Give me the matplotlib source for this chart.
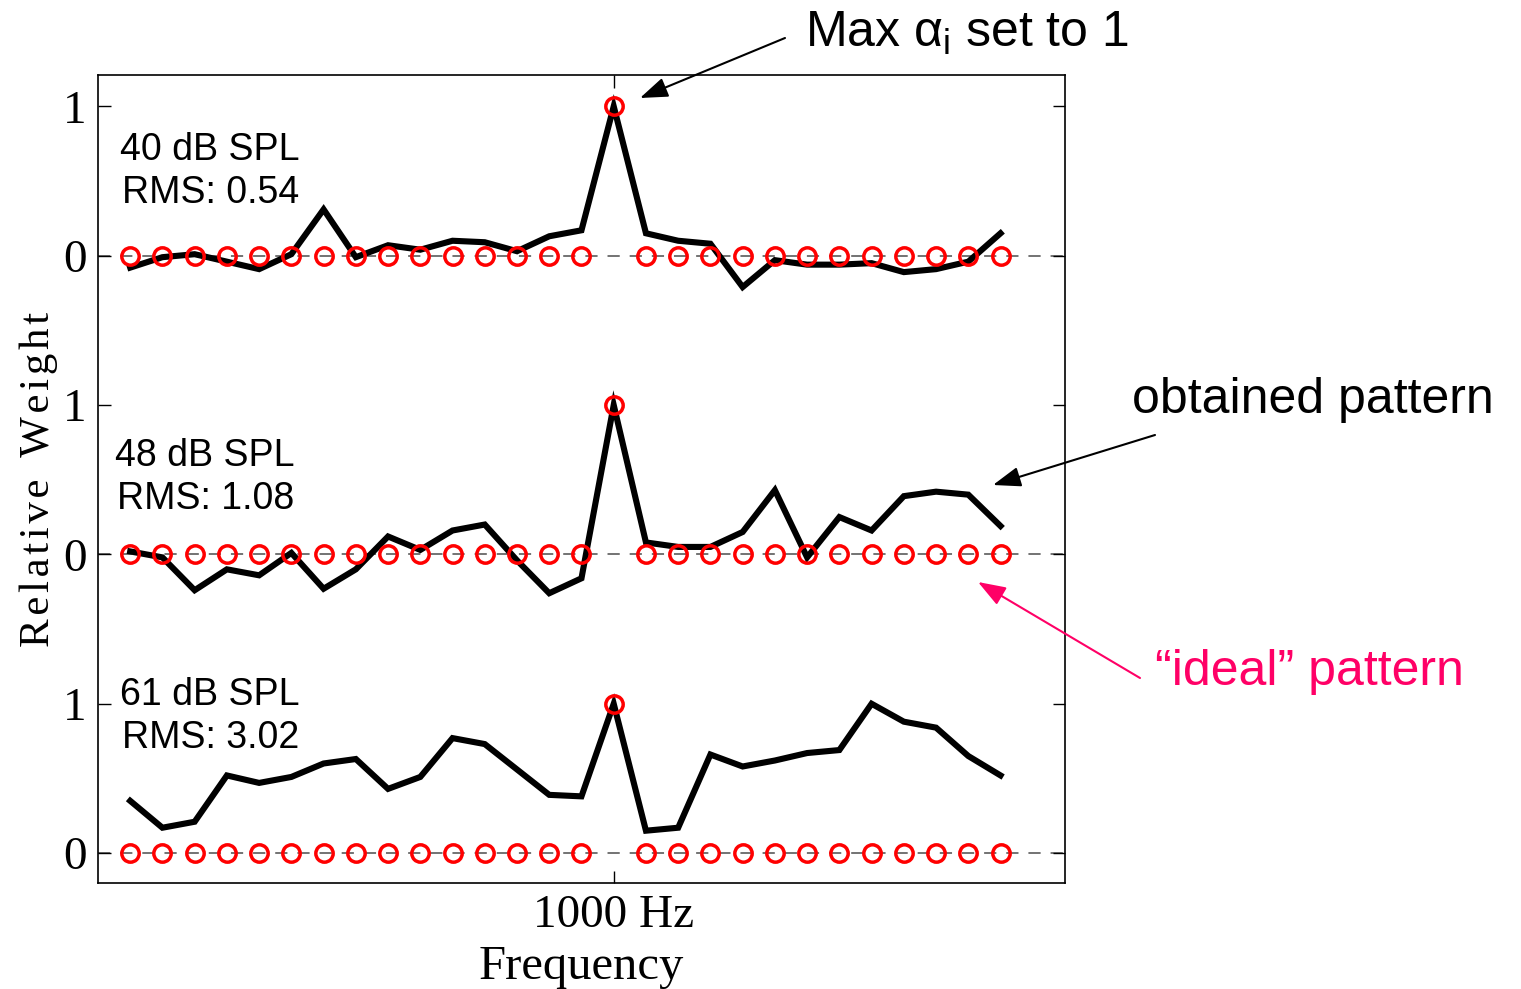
import matplotlib
matplotlib.use("Agg")
import matplotlib.pyplot as plt
import numpy as np

# frequency channels (index 15 is the 1000 Hz target)
n_chan = 28
target_idx = 15

# obtained weight patterns, one per level
levels = ["40 dB SPL", "48 dB SPL", "61 dB SPL"]
rms = [0.54, 1.08, 3.02]
weights_40 = [-0.08, -0.01, 0.01, -0.04, -0.09, 0.01, 0.31, -0.01, 0.07, 0.04,
              0.10, 0.09, 0.03, 0.13, 0.17, 1.00, 0.15, 0.10, 0.08, -0.21,
              -0.03, -0.06, -0.06, -0.05, -0.11, -0.09, -0.04, 0.15]
weights_48 = [0.02, -0.02, -0.24, -0.10, -0.14, 0.01, -0.23, -0.10, 0.12, 0.03,
              0.16, 0.20, -0.04, -0.26, -0.16, 1.00, 0.08, 0.05, 0.05, 0.15,
              0.43, -0.02, 0.25, 0.16, 0.39, 0.42, 0.40, 0.19]
weights_61 = [0.35, 0.17, 0.21, 0.52, 0.47, 0.51, 0.60, 0.63, 0.43, 0.51,
              0.77, 0.73, 0.56, 0.39, 0.38, 1.00, 0.15, 0.17, 0.66, 0.58,
              0.62, 0.67, 0.69, 1.00, 0.88, 0.84, 0.65, 0.52]
panel_offsets = [4, 2, 0]

# "ideal" pattern: all weight on the target channel
ideal = [1.0 if i == target_idx else 0.0 for i in range(n_chan)]

serif = ["Liberation Serif", "DejaVu Serif"]
sans = ["Liberation Sans", "DejaVu Sans"]

# upright greek letters in the annotation
plt.rcParams["mathtext.fontset"] = "custom"
plt.rcParams["mathtext.rm"] = "Liberation Sans"
plt.rcParams["mathtext.it"] = "Liberation Sans"
plt.rcParams["mathtext.bf"] = "Liberation Sans:bold"

fig = plt.figure(figsize=(15.21, 9.89), dpi=100)
ax = fig.add_axes([0.0644, 0.1072, 0.6358, 0.8170])

x = np.arange(n_chan)
for w, off in zip([weights_40, weights_48, weights_61], panel_offsets):
    ax.axhline(off, color="0.3", ls=(0, (8, 6.5)), lw=1.1, zorder=1)
    ax.plot(x, np.array(w) + off, color="black", lw=4.4,
            solid_joinstyle="miter", zorder=2)
    ax.plot(x, np.array(ideal) + off, "o", ms=12.5, mfc="none", mec="red",
            mew=2.5, zorder=3)

ax.set_xlim(-1, 29)
ax.set_ylim(-0.2, 5.21)

ax.set_xticks([target_idx])
ax.set_xticklabels(["1000 Hz"], fontsize=34, family=serif)
ax.set_yticks([0, 1, 2, 3, 4, 5])
ax.set_yticklabels(["0", "1", "0", "1", "0", "1"], fontsize=34, family=serif)
ax.tick_params(direction="in", length=9, width=1, top=True, right=True,
               pad=8)
ax.tick_params(axis="x", pad=8)
for s in ax.spines.values():
    s.set_linewidth(1.2)

hs = "\u200a"
ax.set_xlabel("Frequency", fontsize=35, family=serif, labelpad=6)
ax.set_ylabel(hs.join("Relative") + " " + hs * 3 + hs.join("Weight"),
              fontsize=31, family=serif, labelpad=4)

# level / RMS labels for each panel
label_pos = [(0.0789, 0.8483), (0.0756, 0.5390), (0.0789, 0.2973)]
for (lx, ly), lev, r in zip(label_pos, levels, rms):
    fig.text(lx, ly, lev, fontsize=27, family=sans, va="center")
    fig.text(lx + 0.001, ly - 0.0435, f"RMS: {r:.2f}", fontsize=27,
             family=sans, va="center")

arrow = dict(arrowstyle="-|>,head_length=0.5,head_width=0.18", lw=1.5,
             color="black", shrinkA=0, shrinkB=0)
ax.annotate("", xy=(640 / 1521, 1 - 98 / 989), xycoords="figure fraction",
            xytext=(785 / 1521, 1 - 38 / 989), textcoords="figure fraction",
            arrowprops=arrow, fontsize=34)
fig.text(805 / 1521, 1 - 33 / 989, r"Max $\alpha_{\mathrm{i}}$ set to 1",
         fontsize=36, family=sans, va="center")

ax.annotate("", xy=(993 / 1521, 1 - 485 / 989), xycoords="figure fraction",
            xytext=(1155 / 1521, 1 - 435 / 989), textcoords="figure fraction",
            arrowprops=arrow, fontsize=34)
fig.text(1132 / 1521, 1 - 400 / 989, "obtained pattern", fontsize=36,
         family=sans, va="center")

pink = "#ff0066"
arrow_pink = dict(arrow, color=pink)
ax.annotate("", xy=(978 / 1521, 1 - 582 / 989), xycoords="figure fraction",
            xytext=(1140 / 1521, 1 - 678 / 989), textcoords="figure fraction",
            arrowprops=arrow_pink, fontsize=34)
fig.text(1155 / 1521, 1 - 672 / 989, "\u201cideal\u201d pattern", fontsize=36,
         family=sans, va="center", color=pink)

fig.savefig("out.png", dpi=100)
